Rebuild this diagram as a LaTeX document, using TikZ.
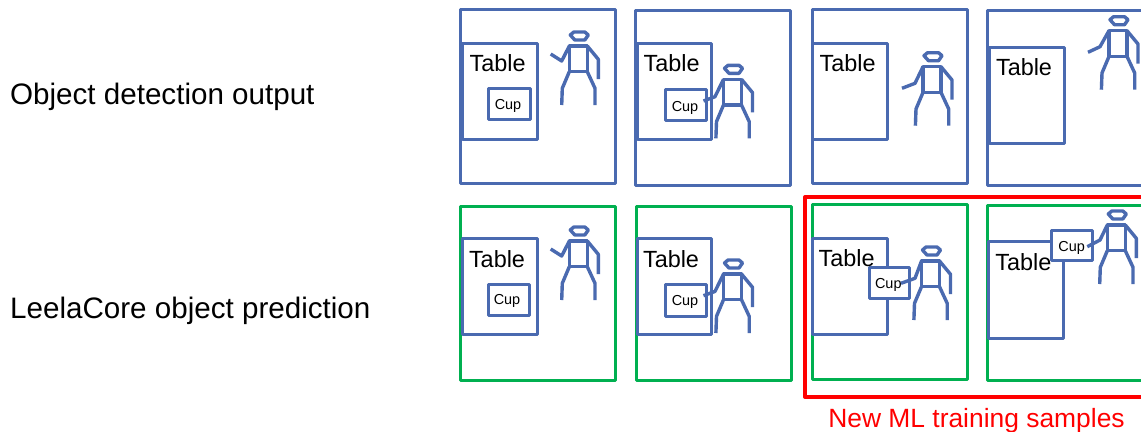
\documentclass[tikz,border=0pt]{standalone}
\usepackage{fontspec}
\setmainfont{Liberation Sans}
\usepackage{xcolor}
\definecolor{figblue}{HTML}{4A6AB0}
\definecolor{okgreen}{HTML}{00B050}
\newcommand{\stickman}[4]{% x, y of neck, then elbow and hand of the raised arm
  \begin{scope}[shift={(#1,#2)}]
    \draw[man] (-8,-11)--(-4.5,-14)--(6.5,-14)--(10,-11)--(6.5,-6)--(-3.5,-6)--cycle;
    \draw[man] (-9,0) rectangle (9,25.7);
    \draw[man] (9,0)--(20,13.3)--(20,33);
    \draw[man] (-9,0)--#3--#4;
    \draw[man] (-9,25.7)--(-16,42.3)--(-16.6,59);
    \draw[man] (9,25.7)--(16.7,42.3)--(16.7,59);
  \end{scope}}

\begin{document}
\begin{tikzpicture}[
    x=1bp,y=-1bp,
    man/.style={draw=figblue,line width=3.4bp,line join=round},
    frameblue/.style={draw=figblue,line width=3bp,line join=round},
    framegreen/.style={draw=okgreen,line width=3bp,line join=round},
    tablebox/.style={draw=figblue,line width=3bp,fill=white,line join=round},
    cupbox/.style={draw=figblue,line width=3bp,fill=white,line join=round},
    tablelabel/.style={anchor=base,inner sep=0pt,font=\fontsize{23.5}{27}\selectfont},
    cuplabel/.style={anchor=base,inner sep=0pt,font=\fontsize{14.5}{17}\selectfont},
    rowlabel/.style={anchor=base west,inner sep=0pt,font=\fontsize{29.7}{34}\selectfont}
  ]
    \clip (0,0) rectangle (1141,431);
    \fill[white] (0,0) rectangle (1141,431);
    % frames
    \foreach \xa/\ya/\xb/\yb in {460.5/9.5/615.5/183.5,635.5/10.5/790.5/185.5,812.5/9.5/967.5/183.5,987.5/10.5/1143.5/185.5} {\draw[frameblue] (\xa,\ya) rectangle (\xb,\yb);}
    \foreach \xa/\ya/\xb/\yb in {460.5/206.5/615.5/380.5,636.5/206.5/791.5/380.5,812.5/204.5/967.5/379.5,987.5/205.5/1143.5/380.5} {\draw[framegreen] (\xa,\ya) rectangle (\xb,\yb);}
    \draw[red,line width=4bp,line join=round] (805,197) rectangle (1150,397);
    % tables
    \foreach \xa/\ya/\xb/\yb in {462.5/43.5/537.5/139.5,637.5/43.5/711.5/139.5,812.5/43.5/887.5/139.5,989.5/47.5/1064.5/143.5,462.5/238.5/537.5/334.5,637.5/238.5/711.5/334.5,812.5/238.5/887.5/334.5,988.5/241.5/1063.5/338.5} {\draw[tablebox] (\xa,\ya) rectangle (\xb,\yb);}
    % cups
    \foreach \xa/\ya/\xb/\yb in {488.5/88.5/530.5/119.5,665.5/89.5/706.5/120.5,488.5/284.5/529.5/315.5,665.5/284.5/706.5/316.5,869.5/267.5/909.5/298.5,1051.5/230.5/1092.5/260.5} {\draw[cupbox] (\xa,\ya) rectangle (\xb,\yb);}
    % labels
    \foreach \n/\x/\y in {ta/497.7/71.7,tb/671.7/71.7,tc/847.7/71.7,td/1024/75,te/497/267,tf/671/267,tg/846.7/266,th/1023.3/270} {\node[tablelabel] (\n) at (\x,\y) {Table};}
    \foreach \n/\x/\y in {ca/508/109,cb/685/111,ce/507/304,cf/685/305,cg/888.3/288.3,ch/1071.7/251.3} {\node[cuplabel] (\n) at (\x,\y) {Cup};}
    % people
    \stickman{578.3}{46}{(-16.6,15)}{(-27.6,8)}
    \stickman{732.5}{79.3}{(-17.5,17.4)}{(-29,21.7)}
    \stickman{932}{66.7}{(-17,16.6)}{(-30,21.6)}
    \stickman{1118}{30.7}{(-18,16)}{(-30,21.6)}
    \stickman{578.3}{241}{(-16.6,15)}{(-27.6,8)}
    \stickman{732.5}{274}{(-17.5,17.4)}{(-29,21.7)}
    \stickman{930.5}{261}{(-15.5,17.3)}{(-29.5,22.3)}
    \stickman{1116.3}{225}{(-16.3,15)}{(-29,21.7)}
    % captions
    \node[rowlabel] (detect) at (10,104) {Object detection output};
    \node[rowlabel] (predict) at (10,318) {LeelaCore object prediction};
    \node[anchor=base,inner sep=0pt,text=red,font=\fontsize{26.5}{31}\selectfont] (samples) at (976.5,427) {New ML training samples};
  \end{tikzpicture}
\end{document}
